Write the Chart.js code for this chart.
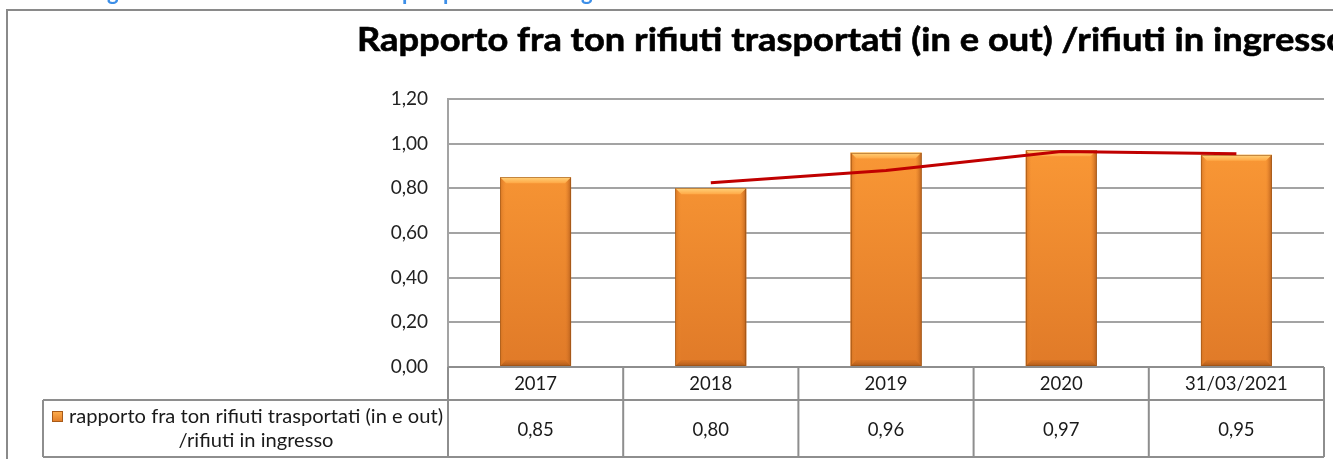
<!DOCTYPE html>
<html>
<head>
<meta charset="utf-8">
<script src="https://cdn.jsdelivr.net/npm/chart.js@4"></script>
<style>
  html, body { margin: 0; padding: 0; background: #fff; }
  #wrap { position: relative; width: 1333px; height: 459px; overflow: hidden; }
  canvas { display: block; }
</style>
</head>
<body>
<div id="wrap"><canvas id="c" width="1333" height="459"></canvas></div>
<script>
// ---- data ----
const categories = ['2017', '2018', '2019', '2020', '31/03/2021'];
const ratioValues = [0.85, 0.80, 0.96, 0.97, 0.95];
const ratioLabels = ['0,85', '0,80', '0,96', '0,97', '0,95'];
const trendValues = [null, 0.825, 0.88, 0.965, 0.955];
const yTicks = [0, 0.2, 0.4, 0.6, 0.8, 1.0, 1.2];
const seriesName = 'rapporto fra ton rifiuti trasportati (in e out)';
const seriesName2 = '/rifiuti in ingresso';
const titleText = 'Rapporto fra ton rifiuti trasportati (in e out) /rifiuti in ingresso';
const headerFragments = [['g', 107], ['p', 402], ['p', 443], ['g', 581]];

const FONT = 'Lato, "Open Sans", sans-serif';
const GRID = '#a3a3a3';
const TABLE = '#8e8e8e';

function barGradient(ctx, area) {
  const g = ctx.createLinearGradient(0, area.top, 0, area.bottom);
  g.addColorStop(0, '#ff9e38');
  g.addColorStop(1, '#e07a28');
  return g;
}

const decorPlugin = {
  id: 'decor',
  beforeDraw(chart) {
    const ctx = chart.ctx;
    ctx.save();
    // outer frame
    ctx.strokeStyle = '#8a8a8a';
    ctx.lineWidth = 2;
    ctx.beginPath();
    ctx.moveTo(7, 459);
    ctx.lineTo(7, 10);
    ctx.lineTo(1333, 10);
    ctx.stroke();
    // blue fragments of the cut-off line above
    ctx.fillStyle = '#3d8fe8';
    ctx.font = 'bold 22px ' + FONT;
    ctx.textBaseline = 'alphabetic';
    headerFragments.forEach(([t, x]) => ctx.fillText(t, x, 0));
    // title
    ctx.fillStyle = '#000';
    ctx.font = 'bold 33px ' + FONT;
    const w = ctx.measureText(titleText).width;
    const sx = 990 / w;
    ctx.translate(357, 51);
    ctx.scale(sx, 1);
    ctx.lineWidth = 0.6;
    ctx.strokeStyle = '#000';
    ctx.fillText(titleText, 0, 0);
    ctx.strokeText(titleText, 0, 0);
    ctx.restore();
  },
  afterDatasetDraw(chart, args) {
    if (args.index !== 0) return;
    const ctx = chart.ctx;
    const meta = chart.getDatasetMeta(0);
    ctx.save();
    meta.data.forEach(bar => {
      const l = bar.x - bar.width / 2, r = bar.x + bar.width / 2;
      const t = bar.y, b = bar.base;
      const bv = 6;
      // top bevel
      let g = ctx.createLinearGradient(0, t, 0, t + bv);
      g.addColorStop(0, '#ffd27a');
      g.addColorStop(1, '#ffa845');
      ctx.fillStyle = g;
      ctx.beginPath();
      ctx.moveTo(l, t); ctx.lineTo(r, t); ctx.lineTo(r - bv, t + bv); ctx.lineTo(l + bv, t + bv); ctx.closePath();
      ctx.fill();
      // left bevel
      g = ctx.createLinearGradient(l, 0, l + bv, 0);
      g.addColorStop(0, 'rgba(205,110,30,0.8)');
      g.addColorStop(1, 'rgba(240,140,50,0)');
      ctx.fillStyle = g;
      ctx.beginPath();
      ctx.moveTo(l, t); ctx.lineTo(l + bv, t + bv); ctx.lineTo(l + bv, b - bv); ctx.lineTo(l, b); ctx.closePath();
      ctx.fill();
      // right bevel
      g = ctx.createLinearGradient(r, 0, r - bv, 0);
      g.addColorStop(0, 'rgba(175,90,25,0.9)');
      g.addColorStop(1, 'rgba(220,120,40,0)');
      ctx.fillStyle = g;
      ctx.beginPath();
      ctx.moveTo(r, t); ctx.lineTo(r - bv, t + bv); ctx.lineTo(r - bv, b - bv); ctx.lineTo(r, b); ctx.closePath();
      ctx.fill();
      // bottom bevel
      g = ctx.createLinearGradient(0, b - bv, 0, b);
      g.addColorStop(0, 'rgba(200,105,30,0.3)');
      g.addColorStop(1, 'rgba(165,85,25,0.9)');
      ctx.fillStyle = g;
      ctx.beginPath();
      ctx.moveTo(l, b); ctx.lineTo(l + bv, b - bv); ctx.lineTo(r - bv, b - bv); ctx.lineTo(r, b); ctx.closePath();
      ctx.fill();
      // edge
      ctx.strokeStyle = 'rgba(150,80,20,0.55)';
      ctx.lineWidth = 1;
      ctx.strokeRect(Math.round(l) + 0.5, Math.round(t) + 0.5, Math.round(r - l) - 1, Math.round(b - t) - 1);
    });
    ctx.restore();
  },
  afterDraw(chart) {
    const ctx = chart.ctx;
    const xs = chart.scales.x;
    const area = chart.chartArea;
    const n = categories.length;
    const cw = (area.right - area.left) / n;
    const y0 = area.bottom, y1 = 400, y2 = 457;
    const legL = 43;
    ctx.save();
    ctx.strokeStyle = TABLE;
    ctx.lineWidth = 2;
    ctx.beginPath();
    ctx.moveTo(area.left, y0); ctx.lineTo(area.right, y0);
    ctx.moveTo(legL, y1); ctx.lineTo(area.right, y1);
    ctx.moveTo(legL, y2); ctx.lineTo(area.right, y2);
    ctx.moveTo(legL, y1); ctx.lineTo(legL, y2);
    for (let i = 0; i <= n; i++) {
      const x = area.left + i * cw;
      ctx.moveTo(x, y0); ctx.lineTo(x, y2);
    }
    ctx.stroke();
    // texts
    ctx.fillStyle = '#1a1a1a';
    ctx.font = '18.5px ' + FONT;
    ctx.textAlign = 'center';
    ctx.textBaseline = 'middle';
    categories.forEach((c, i) => {
      const x = xs.getPixelForValue(i);
      ctx.fillText(c, x, 384);
      ctx.fillText(ratioLabels[i], x, 430);
    });
    // legend cell
    ctx.font = '18px ' + FONT;
    const fs = 18 * 374 / ctx.measureText(seriesName).width;
    ctx.font = fs.toFixed(2) + 'px ' + FONT;
    const tc = 256;
    ctx.fillText(seriesName, tc, 417);
    ctx.fillText(seriesName2, tc, 441);
    const tw = ctx.measureText(seriesName).width;
    const mx = tc - tw / 2 - 17;
    const g = ctx.createLinearGradient(0, 411, 0, 422);
    g.addColorStop(0, '#ffb050');
    g.addColorStop(1, '#e07a25');
    ctx.fillStyle = g;
    ctx.fillRect(mx, 411, 11, 11);
    ctx.strokeStyle = '#a85a18';
    ctx.lineWidth = 1;
    ctx.strokeRect(mx + 0.5, 411.5, 10, 10);
    ctx.restore();
  }
};

new Chart(document.getElementById('c'), {
  data: {
    labels: categories,
    datasets: [
      {
        type: 'bar',
        label: seriesName + ' ' + seriesName2,
        data: ratioValues,
        order: 1,
        backgroundColor: (c) => {
          const a = c.chart.chartArea;
          if (!a) return '#f28a2e';
          return barGradient(c.chart.ctx, a);
        },
        borderWidth: 0,
        barPercentage: 0.405,
        categoryPercentage: 1
      },
      {
        type: 'line',
        label: 'trend',
        data: trendValues,
        order: 0,
        borderColor: '#c00000',
        borderWidth: 3,
        pointRadius: 0,
        tension: 0,
        fill: false,
        spanGaps: false
      }
    ]
  },
  options: {
    responsive: false,
    animation: false,
    events: [],
    layout: { padding: { left: 0, top: 99, right: 9, bottom: 92 } },
    plugins: { legend: { display: false }, title: { display: false }, tooltip: { enabled: false } },
    scales: {
      x: {
        type: 'category',
        offset: true,
        grid: { display: false },
        border: { display: false },
        ticks: { display: false },
        afterFit(s) { s.height = 0; }
      },
      y: {
        min: 0,
        max: 1.2,
        afterFit(s) { s.width = 448; },
        afterBuildTicks(s) { s.ticks = yTicks.map(v => ({ value: v })); },
        ticks: {
          padding: 20,
          color: '#222',
          font: { family: FONT, size: 19 },
          callback: (v) => Number(v).toFixed(2).replace('.', ',')
        },
        grid: { color: GRID, lineWidth: 2, drawTicks: false },
        border: { display: true, color: GRID, width: 2 }
      }
    }
  },
  plugins: [decorPlugin]
});
</script>
</body>
</html>
